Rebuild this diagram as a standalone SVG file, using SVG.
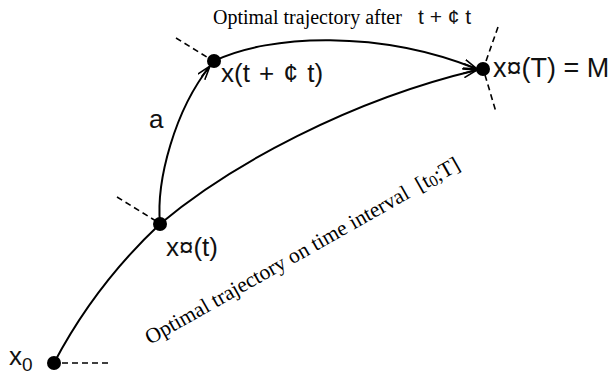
<svg xmlns="http://www.w3.org/2000/svg" width="614" height="377" viewBox="0 0 614 377">
<style>
.curve{fill:none;stroke:#000;stroke-width:2}
.dash{fill:none;stroke:#000;stroke-width:1.6;stroke-dasharray:6,4}
.dot{fill:#000}
.sans{font-family:"Liberation Sans",Arial,sans-serif;fill:#111}
.serif{font-family:"Liberation Serif","Times New Roman",serif;fill:#000}
</style>
<defs>
<marker id="arr" viewBox="0 0 15 10" refX="14" refY="5" markerWidth="15" markerHeight="10" markerUnits="userSpaceOnUse" orient="auto">
<path d="M0,0.5 L14,5 L0,9.5 M0,5 L14,5" fill="none" stroke="#000" stroke-width="1.6"/>
</marker>
</defs>
<g id="connectors">
<path class="curve" d="M54,363 Q95,285 160,224"/>
<path class="curve" d="M160,224 C230,165 350,100 477,70" marker-end="url(#arr)"/>
<path class="curve" d="M160,224 C156,180 175,110 210,66" marker-end="url(#arr)"/>
<path class="curve" d="M214,61 C270,34 380,30 477,69" marker-end="url(#arr)"/>
<path class="dash" d="M62,363 L108,363"/>
<path class="dash" d="M117,197 L156,221"/>
<path class="dash" d="M176,38 L210,59"/>
<path class="dash" d="M498,27 L485,64"/>
<path class="dash" d="M485,75 L496,112"/>
</g>
<g id="node-x0">
<circle class="dot" cx="54" cy="363" r="7"/>
<text class="sans" x="9" y="365" font-size="26">x<tspan font-size="19" dy="6">0</tspan></text>
</g>
<g id="node-xstar-t">
<circle class="dot" cx="160" cy="224" r="7"/>
<text class="sans" x="166" y="256" font-size="26">x¤(t)</text>
</g>
<g id="node-x-t-dt">
<circle class="dot" cx="214" cy="61" r="7"/>
<text class="sans" x="221" y="82" font-size="26" word-spacing="2">x(t + ¢ t)</text>
</g>
<g id="node-M">
<circle class="dot" cx="483" cy="69" r="7"/>
<text class="sans" x="493" y="77" font-size="27">x¤(T) = M</text>
</g>
<g id="labels">
<text class="sans" x="149" y="128" font-size="26">a</text>
<text class="serif" x="213" y="24" font-size="20">Optimal trajectory after</text>
<text class="sans" x="418" y="24" font-size="21">t +  ¢ t</text>
<text class="serif" font-size="21.5" transform="translate(150,345) rotate(-29.5)">Optimal trajectory on time interval &#160;[t<tspan font-size="16" dy="2">0</tspan><tspan dy="-2">;T]</tspan></text>
</g>
</svg>
